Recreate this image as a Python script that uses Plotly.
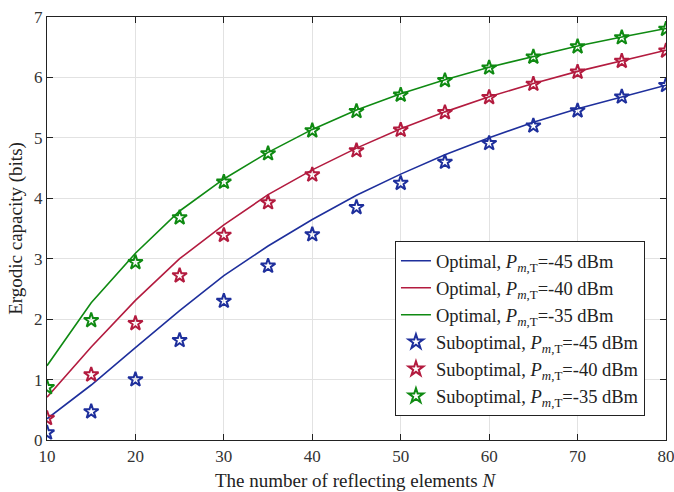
import plotly.graph_objects as go

N = [10, 15, 20, 25, 30, 35, 40, 45, 50, 55, 60, 65, 70, 75, 80]

opt_45 = [0.35, 0.91, 1.53, 2.14, 2.72, 3.21, 3.65, 4.05, 4.40, 4.72, 5.00, 5.26, 5.48, 5.68, 5.87]
opt_40 = [0.71, 1.54, 2.31, 3.00, 3.56, 4.06, 4.47, 4.83, 5.15, 5.43, 5.68, 5.90, 6.10, 6.28, 6.45]
opt_35 = [1.23, 2.27, 3.09, 3.79, 4.32, 4.76, 5.14, 5.46, 5.73, 5.96, 6.17, 6.35, 6.52, 6.67, 6.81]

sub_45 = [0.12, 0.47, 1.00, 1.65, 2.30, 2.88, 3.40, 3.85, 4.25, 4.60, 4.91, 5.20, 5.45, 5.68, 5.87]
sub_40 = [0.36, 1.08, 1.93, 2.72, 3.39, 3.93, 4.39, 4.79, 5.13, 5.42, 5.67, 5.89, 6.09, 6.27, 6.44]
sub_35 = [0.87, 1.98, 2.94, 3.68, 4.27, 4.74, 5.12, 5.44, 5.71, 5.95, 6.16, 6.34, 6.51, 6.66, 6.80]

powers = ["-45", "-40", "-35"]
colors = ["#1e2f9c", "#b31b3f", "#0f8a12"]

FONT = "Liberation Serif"
x_title = "The number of reflecting elements <i>N</i>"
y_title = "Ergodic capacity (bits)"

def lab(kind, p):
    return f"{kind}, <i>P</i><sub><i>m</i>,T</sub>={p} dBm"

fig = go.Figure()
for ys, p, c in zip([opt_45, opt_40, opt_35], powers, colors):
    fig.add_trace(go.Scatter(x=N, y=ys, mode="lines", name=lab("Optimal", p),
                             line=dict(color=c, width=1.6)))
for ys, p, c in zip([sub_45, sub_40, sub_35], powers, colors):
    fig.add_trace(go.Scatter(x=N, y=ys, mode="markers", name=lab("Suboptimal", p),
                             marker=dict(symbol="star-open", size=11, color=c,
                                         line=dict(color=c, width=2))))

axis_common = dict(showline=True, linecolor="#222", linewidth=1.2, mirror="ticks",
                   ticks="inside", ticklen=6, tickcolor="#222",
                   showgrid=True, gridcolor="#e2e2e2", gridwidth=1,
                   zeroline=False, tickfont=dict(family=FONT, size=17, color="#333"),
                   title_font=dict(family=FONT, size=19, color="#222"),
                   ticklabeloverflow="allow", automargin=False)

fig.update_xaxes(range=[10, 80], dtick=10, **axis_common)
fig.update_yaxes(range=[0, 7], dtick=1, title_text=y_title,
                 title_standoff=6, **axis_common)

fig.add_annotation(text=x_title, xref="paper", yref="paper", x=0.499, y=0,
                   xanchor="center", yanchor="middle", yshift=-40, showarrow=False,
                   font=dict(family=FONT, size=19, color="#222"))

fig.update_layout(
    width=674, height=492,
    margin=dict(l=47, r=8, t=17, b=52),
    plot_bgcolor="white", paper_bgcolor="white",
    font=dict(family=FONT, size=17, color="#222"),
    legend=dict(x=0.966, y=0.47, xanchor="right", yanchor="top",
                bgcolor="white", bordercolor="#222", borderwidth=1,
                font=dict(family=FONT, size=18.5, color="#222"),
                tracegroupgap=0),
    showlegend=True,
)

fig.write_html("out.html")
